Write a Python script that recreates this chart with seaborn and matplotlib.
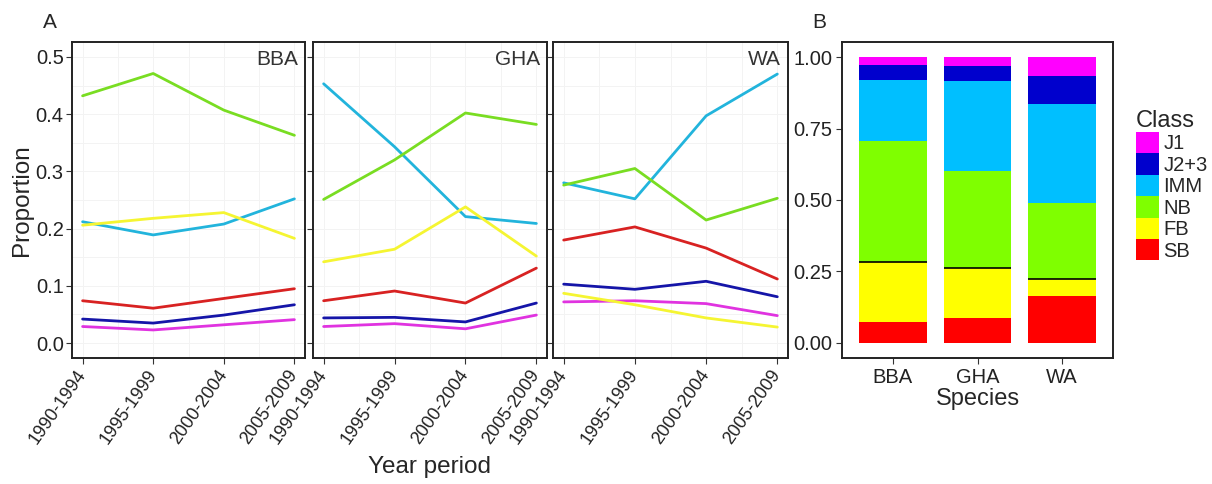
import numpy as np
import pandas as pd
import matplotlib
matplotlib.use("Agg")
import matplotlib.pyplot as plt
import matplotlib.transforms as mtrans
from matplotlib.patches import Patch
import seaborn as sns

# data
periods = ['1990-1994', '1995-1999', '2000-2004', '2005-2009']
classes = ['J1', 'J2+3', 'IMM', 'NB', 'FB', 'SB']
species = ['BBA', 'GHA', 'WA']

# panel A: proportion of each class per period, one dict per species
bba = {'J1': [0.029, 0.023, 0.032, 0.041],
       'J2+3': [0.042, 0.035, 0.049, 0.067],
       'IMM': [0.212, 0.189, 0.208, 0.252],
       'NB': [0.432, 0.471, 0.407, 0.363],
       'FB': [0.206, 0.218, 0.228, 0.183],
       'SB': [0.074, 0.061, 0.078, 0.095]}
gha = {'J1': [0.029, 0.034, 0.025, 0.049],
       'J2+3': [0.044, 0.045, 0.037, 0.070],
       'IMM': [0.453, 0.343, 0.221, 0.209],
       'NB': [0.251, 0.320, 0.402, 0.382],
       'FB': [0.142, 0.164, 0.238, 0.152],
       'SB': [0.074, 0.091, 0.070, 0.131]}
wa = {'J1': [0.072, 0.074, 0.069, 0.048],
      'J2+3': [0.103, 0.094, 0.108, 0.081],
      'IMM': [0.280, 0.252, 0.397, 0.470],
      'NB': [0.276, 0.305, 0.215, 0.253],
      'FB': [0.087, 0.067, 0.044, 0.028],
      'SB': [0.180, 0.203, 0.166, 0.112]}

# panel B: overall class composition per species (BBA, GHA, WA)
bar_SB = [0.072, 0.087, 0.166]
bar_FB = [0.211, 0.175, 0.058]
bar_NB = [0.424, 0.341, 0.266]
bar_IMM = [0.214, 0.312, 0.347]
bar_J23 = [0.050, 0.052, 0.098]
bar_J1 = [0.029, 0.033, 0.065]

line_colors = {'J1': '#E033E0', 'J2+3': '#1515A8', 'IMM': '#22B4DC',
               'NB': '#79DD22', 'FB': '#F5F532', 'SB': '#D82222'}
bar_colors = {'J1': '#FF00FF', 'J2+3': '#0000CD', 'IMM': '#00BFFF',
              'NB': '#7FFF00', 'FB': '#FFFF00', 'SB': '#FF0000'}

sns.set_theme(style="white")
plt.rcParams['font.family'] = ['Liberation Sans', 'DejaVu Sans']
plt.rcParams['axes.edgecolor'] = '#222222'

fig = plt.figure(figsize=(12.12, 4.84), dpi=100)
bot, h = 1 - 358 / 484, 316 / 484
ax_pos = [(72, 233), (313, 234), (553, 235)]
line_axes = [fig.add_axes([l / 1212, bot, w / 1212, h]) for l, w in ax_pos]
axB = fig.add_axes([842 / 1212, bot, 271 / 1212, h])

# nudge rotated tick labels a few pixels right, like the original
nudge = mtrans.ScaledTranslation(5 / 100, 0, fig.dpi_scale_trans)

for ax, sp, d in zip(line_axes, species, [bba, gha, wa]):
    rows = []
    for c in classes:
        for p, v in zip(periods, d[c]):
            rows.append({'period': p, 'class': c, 'value': v})
    df = pd.DataFrame(rows)
    sns.lineplot(data=df, x='period', y='value', hue='class', palette=line_colors,
                 linewidth=2.0, legend=False, sort=False, ax=ax)
    ax.set_xlim(-0.15, 3.15)
    ax.set_ylim(-0.026, 0.526)
    ax.set_yticks([0, 0.1, 0.2, 0.3, 0.4, 0.5])
    ax.set_yticks(np.arange(0.05, 0.5, 0.1), minor=True)
    ax.set_xticks(range(4))
    ax.set_xticks([0.5, 1.5, 2.5], minor=True)
    ax.set_xticklabels(periods, rotation=55, ha='right', va='center',
                       rotation_mode='anchor', fontsize=13, color='#222222')
    for lab in ax.get_xticklabels():
        lab.set_transform(lab.get_transform() + nudge)
    ax.grid(True, which='both', color='#F3F3F3', linewidth=0.7)
    ax.set_axisbelow(True)
    ax.tick_params(axis='both', which='major', direction='out', length=4,
                   width=0.8, color='#333333', pad=2, bottom=True, left=True)
    ax.tick_params(axis='x', which='major', pad=6)
    ax.tick_params(axis='both', which='minor', length=0)
    ax.set_xlabel('')
    ax.set_ylabel('')
    for s in ax.spines.values():
        s.set_linewidth(1.4)
    ax.text(0.97, 0.975, sp, transform=ax.transAxes, ha='right', va='top',
            fontsize=15, color='#333333')
    if ax is line_axes[0]:
        ax.set_yticklabels(['0.0', '0.1', '0.2', '0.3', '0.4', '0.5'],
                           fontsize=14.5, color='#222222')
    else:
        ax.set_yticklabels([])

# stacked bars: draw cumulative totals from the top class down
stack = {'SB': bar_SB, 'FB': bar_FB, 'NB': bar_NB, 'IMM': bar_IMM,
         'J2+3': bar_J23, 'J1': bar_J1}
order_up = ['SB', 'FB', 'NB', 'IMM', 'J2+3', 'J1']
cum = np.cumsum(np.array([stack[c] for c in order_up]), axis=0)
for i in range(len(order_up) - 1, -1, -1):
    c = order_up[i]
    sns.barplot(x=species, y=cum[i], color=bar_colors[c], saturation=1,
                width=0.8, linewidth=0, ax=axB)
# black line at the breeder / non-breeder boundary (top of FB)
for j, sp in enumerate(species):
    axB.hlines(cum[1][j], j - 0.4, j + 0.4, color='black', linewidth=1.2)

axB.set_xlim(-0.6, 2.6)
axB.set_ylim(-0.0525, 1.0525)
axB.set_yticks([0, 0.25, 0.5, 0.75, 1.0])
axB.set_yticklabels(['0.00', '0.25', '0.50', '0.75', '1.00'], fontsize=14.5, color='#222222')
axB.set_xticklabels(species, fontsize=14.5, color='#222222')
axB.tick_params(axis='both', direction='out', length=4, width=0.8,
                color='#333333', pad=3, bottom=True, left=True)
axB.set_xlabel('Species', fontsize=17, labelpad=1)
axB.set_ylabel('')
for s in axB.spines.values():
    s.set_linewidth(1.4)

handles = [Patch(facecolor=bar_colors[c], edgecolor='none', label=c) for c in classes]
fig.legend(handles=handles, title='Class', loc='upper left',
           bbox_to_anchor=(1128 / 1212, 1 - 102 / 484), frameon=False,
           fontsize=14.5, title_fontsize=17, handlelength=1.15, handleheight=1.25,
           handletextpad=0.2, labelspacing=0.0, borderaxespad=0)
fig.legends[0]._legend_box.align = 'left'

fig.text(22 / 1212, 1 - 200 / 484, 'Proportion', rotation=90, ha='center',
         va='center', fontsize=17.5)
fig.text(430 / 1212, 1 - 467 / 484, 'Year period', ha='center', va='center',
         fontsize=17.5)
fig.text(43 / 1212, 1 - 23 / 484, 'A', ha='left', va='center', fontsize=15)
fig.text(812 / 1212, 1 - 23 / 484, 'B', ha='left', va='center', fontsize=15)

fig.savefig('out.png', dpi=100)
